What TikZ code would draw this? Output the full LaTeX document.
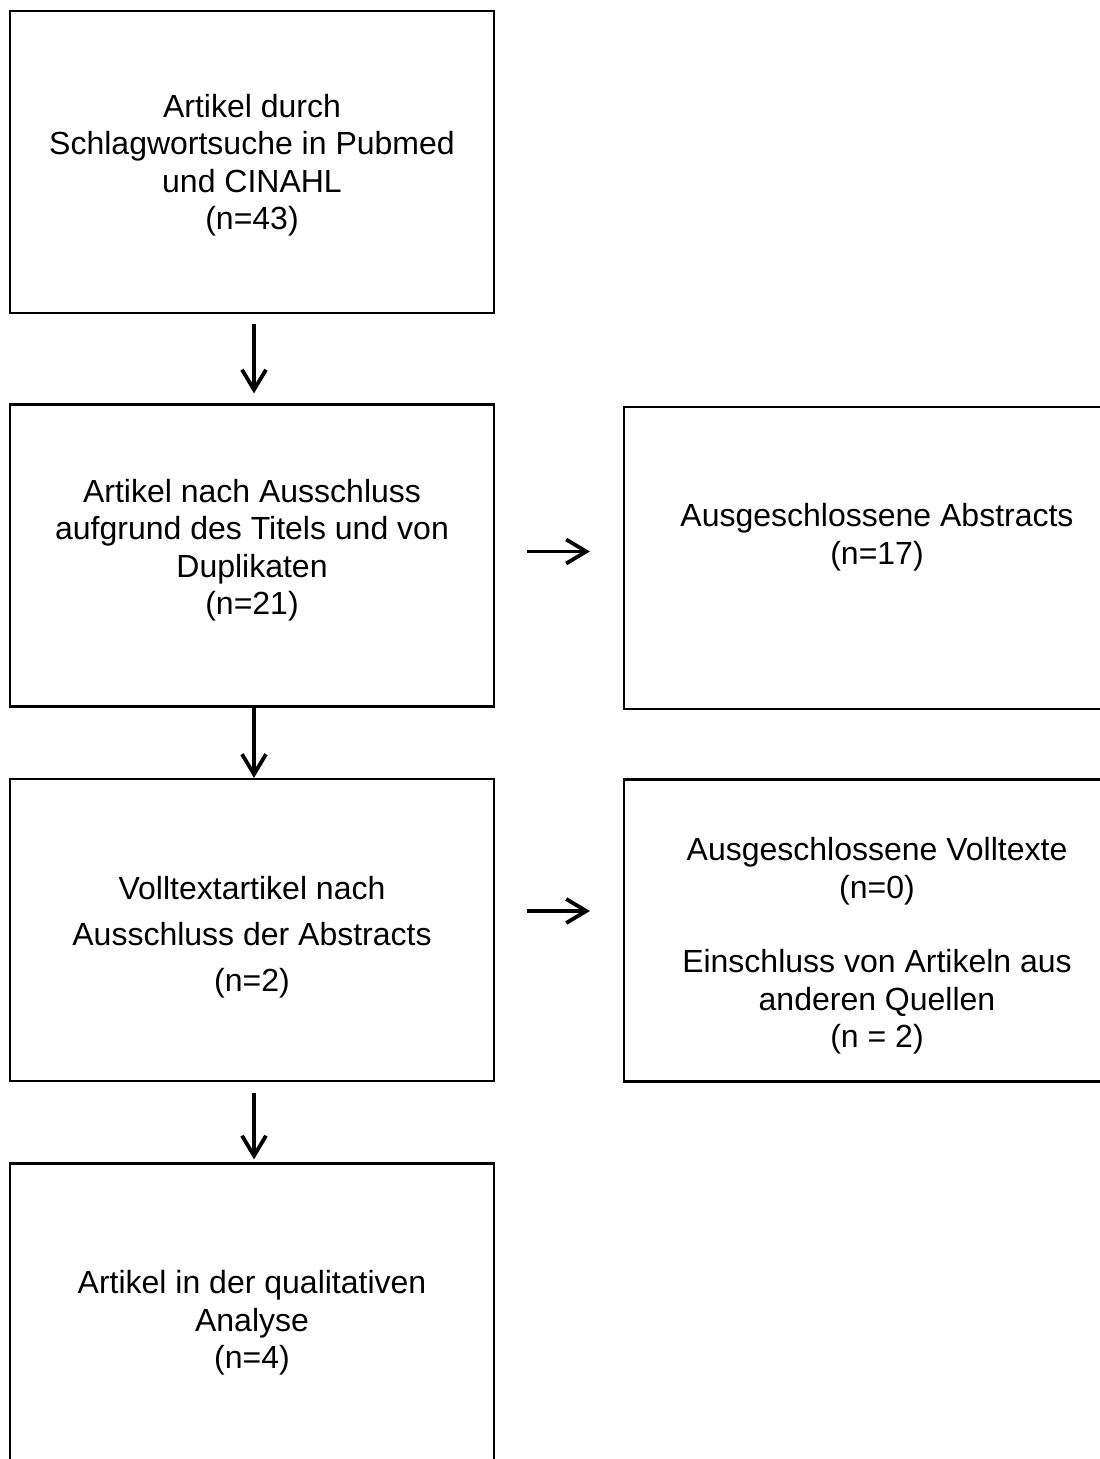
\documentclass[tikz,border=0pt]{standalone}
\usepackage{fontspec}
\setmainfont{Liberation Sans}
\usetikzlibrary{positioning,arrows.meta}

\tikzset{
  kasten/.style={draw=black, line width=1.1pt, rectangle, minimum width=242pt, minimum height=151pt, inner sep=0pt},
  kastenr/.style={kasten, minimum width=253pt},
  txt/.style={align=center, inner sep=0pt, font=\fontsize{16pt}{18.75pt}\selectfont},
  pfeil/.style={line width=1.9pt, -{Straight Barb[length=10pt,width=12pt,line width=1.9pt]}}
}

\begin{document}
\begin{tikzpicture}[x=0.5pt, y=-0.5pt]
\useasboundingbox (0,0) rectangle (1099,1459);

% ================= linke Spalte =================
\node[kasten] (b1) at (252,162) {};
\node[txt] (t1) at (252,165) {Artikel durch\\Schlagwortsuche in Pubmed\\und CINAHL\\(n=43)};

\node[kasten] (b2) at (252,555.5) {};
\node[txt] (t2) at (252,550) {Artikel nach Ausschluss\\aufgrund des Titels und von\\Duplikaten\\(n=21)};

\node[kasten] (b4) at (252,930) {};
\node[txt, font=\fontsize{16pt}{23pt}\selectfont] (t4) at (252,937) {Volltextartikel nach\\Ausschluss der Abstracts\\(n=2)};

\node[kasten] (b6) at (252,1314.5) {};
\node[txt] (t6) at (252,1323) {Artikel in der qualitativen\\Analyse\\(n=4)};

% ================= rechte Spalte =================
\node[kastenr] (b3) at (877,558) {};
\node[txt] (t3) at (877,537) {Ausgeschlossene Abstracts\\(n=17)};

\node[kastenr] (b5) at (877,930.5) {};
\node[txt] (t5) at (877,946) {Ausgeschlossene Volltexte\\(n=0)\\[18.5pt]Einschluss von Artikeln aus\\anderen Quellen\\(n = 2)};

% ================= Pfeile =================
\draw[pfeil] ([xshift=1pt,yshift=-5pt]b1.south) -- ([xshift=1pt,yshift=5pt]b2.north);
\draw[pfeil] ([xshift=1pt]b2.south) -- ([xshift=1pt]b4.north);
\draw[pfeil] ([xshift=1pt,yshift=-5.5pt]b4.south) -- ([xshift=1pt,yshift=1.5pt]b6.north);

\draw[pfeil] ([xshift=16pt,yshift=2pt]b2.east) -- ([xshift=-16.5pt,yshift=2pt]b2.east -| b3.west);
\draw[pfeil] ([xshift=16pt,yshift=9.5pt]b4.east) -- ([xshift=-16.5pt,yshift=9.5pt]b4.east -| b5.west);

\end{tikzpicture}
\end{document}
